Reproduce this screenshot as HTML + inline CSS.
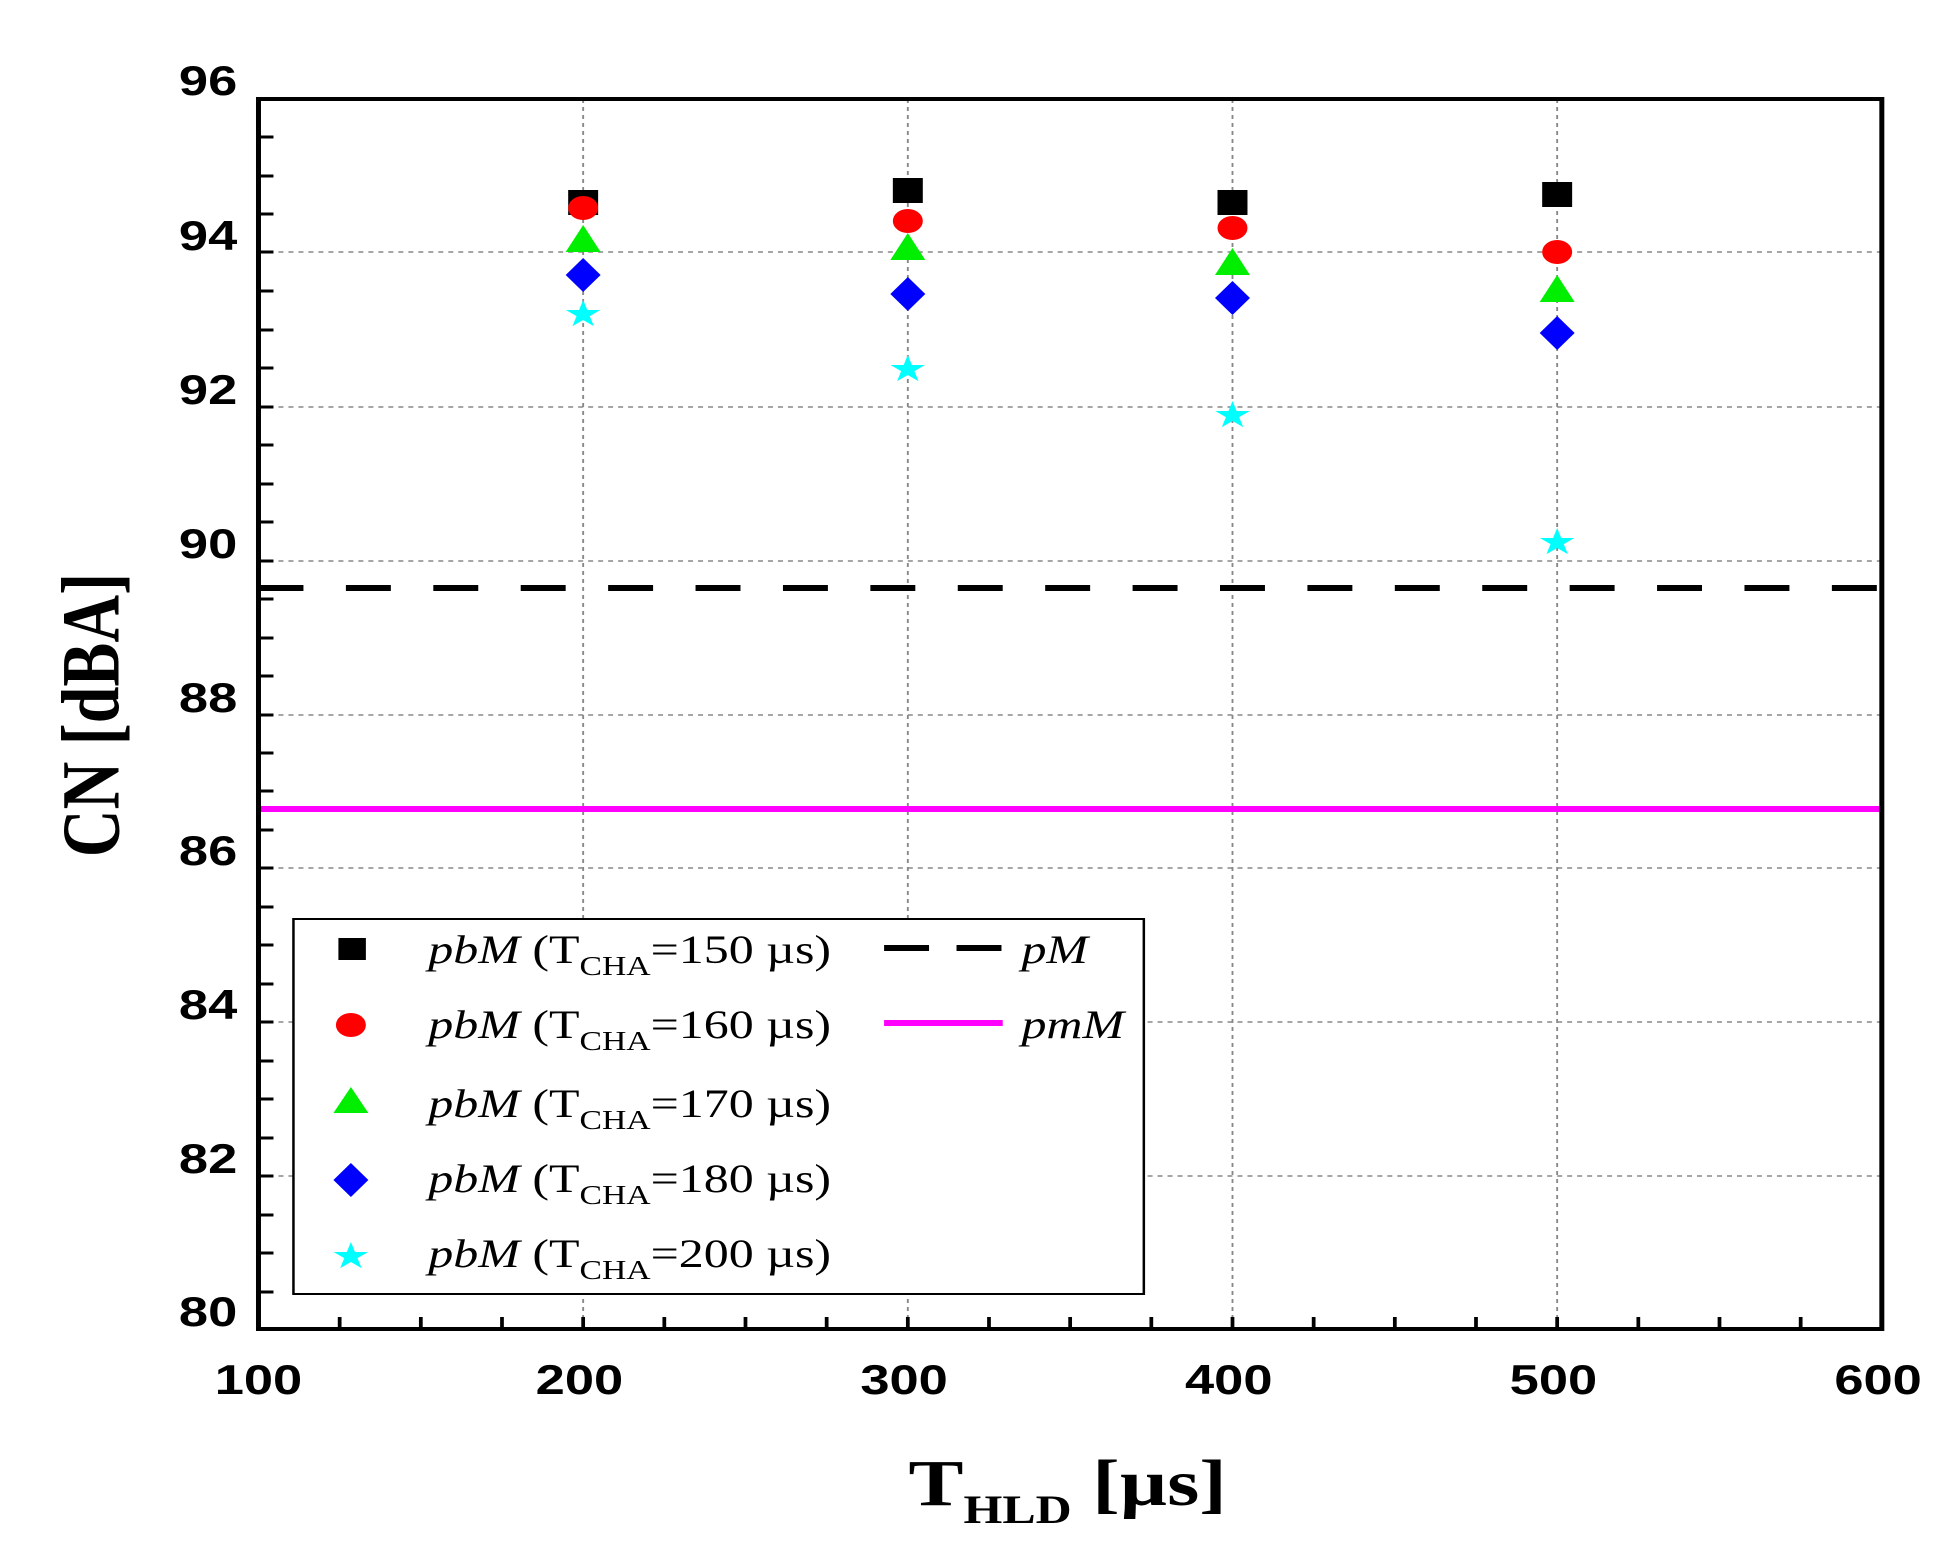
<!DOCTYPE html>
<html><head><meta charset="utf-8"><style>html,body{margin:0;padding:0;background:#fff}svg{display:block}</style></head>
<body>
<svg width="1958" height="1560" viewBox="0 0 1568 1560" preserveAspectRatio="none" xmlns="http://www.w3.org/2000/svg">
<rect width="1568" height="1560" fill="#fff"/>
<g stroke="#888" stroke-width="1.5" stroke-dasharray="4,4">
<line x1="207" x2="1507" y1="252" y2="252"/><line x1="207" x2="1507" y1="407" y2="407"/>
<line x1="207" x2="1507" y1="561" y2="561"/><line x1="207" x2="1507" y1="715" y2="715"/>
<line x1="207" x2="1507" y1="868" y2="868"/><line x1="207" x2="1507" y1="1022" y2="1022"/>
<line x1="207" x2="1507" y1="1176" y2="1176"/>
<line x1="467" x2="467" y1="99" y2="1329"/><line x1="727" x2="727" y1="99" y2="1329"/>
<line x1="987" x2="987" y1="99" y2="1329"/><line x1="1247" x2="1247" y1="99" y2="1329"/>
</g>
<g stroke="#000" stroke-width="3">
<line x1="207" x2="219" y1="137" y2="137"/><line x1="207" x2="219" y1="176" y2="176"/><line x1="207" x2="219" y1="214" y2="214"/>
<line x1="207" x2="219" y1="291" y2="291"/><line x1="207" x2="219" y1="330" y2="330"/><line x1="207" x2="219" y1="368" y2="368"/>
<line x1="207" x2="219" y1="445" y2="445"/><line x1="207" x2="219" y1="484" y2="484"/><line x1="207" x2="219" y1="522" y2="522"/>
<line x1="207" x2="219" y1="599" y2="599"/><line x1="207" x2="219" y1="638" y2="638"/><line x1="207" x2="219" y1="676" y2="676"/>
<line x1="207" x2="219" y1="753" y2="753"/><line x1="207" x2="219" y1="791" y2="791"/><line x1="207" x2="219" y1="830" y2="830"/>
<line x1="207" x2="219" y1="907" y2="907"/><line x1="207" x2="219" y1="945" y2="945"/><line x1="207" x2="219" y1="984" y2="984"/>
<line x1="207" x2="219" y1="1061" y2="1061"/><line x1="207" x2="219" y1="1099" y2="1099"/><line x1="207" x2="219" y1="1138" y2="1138"/>
<line x1="207" x2="219" y1="1215" y2="1215"/><line x1="207" x2="219" y1="1253" y2="1253"/><line x1="207" x2="219" y1="1292" y2="1292"/>
<line x1="207" x2="219" y1="252" y2="252"/><line x1="207" x2="219" y1="407" y2="407"/><line x1="207" x2="219" y1="561" y2="561"/>
<line x1="207" x2="219" y1="715" y2="715"/><line x1="207" x2="219" y1="868" y2="868"/><line x1="207" x2="219" y1="1022" y2="1022"/><line x1="207" x2="219" y1="1176" y2="1176"/>
<line x1="272" x2="272" y1="1329" y2="1317"/><line x1="337" x2="337" y1="1329" y2="1317"/><line x1="402" x2="402" y1="1329" y2="1317"/>
<line x1="467" x2="467" y1="1329" y2="1317"/><line x1="532" x2="532" y1="1329" y2="1317"/><line x1="597" x2="597" y1="1329" y2="1317"/>
<line x1="662" x2="662" y1="1329" y2="1317"/><line x1="727" x2="727" y1="1329" y2="1317"/><line x1="792" x2="792" y1="1329" y2="1317"/>
<line x1="857" x2="857" y1="1329" y2="1317"/><line x1="922" x2="922" y1="1329" y2="1317"/><line x1="987" x2="987" y1="1329" y2="1317"/>
<line x1="1052" x2="1052" y1="1329" y2="1317"/><line x1="1117" x2="1117" y1="1329" y2="1317"/><line x1="1182" x2="1182" y1="1329" y2="1317"/>
<line x1="1247" x2="1247" y1="1329" y2="1317"/><line x1="1312" x2="1312" y1="1329" y2="1317"/><line x1="1377" x2="1377" y1="1329" y2="1317"/>
<line x1="1442" x2="1442" y1="1329" y2="1317"/>
</g>
<line x1="207" x2="1507" y1="588" y2="588" stroke="#000" stroke-width="6" stroke-dasharray="36,34"/>
<line x1="207" x2="1507" y1="809" y2="809" stroke="#f0f" stroke-width="6"/>
<rect x="207" y="99" width="1300" height="1230" fill="none" stroke="#000" stroke-width="4"/>
<g fill="#000"><rect x="455" y="190" width="24" height="25"/><rect x="715" y="178" width="24" height="25"/><rect x="975" y="190" width="24" height="25"/><rect x="1235" y="182" width="24" height="25"/></g>
<g fill="#f00"><circle cx="467" cy="208" r="12"/><circle cx="727" cy="221" r="12"/><circle cx="987" cy="228" r="12"/><circle cx="1247" cy="252" r="12"/></g>
<g fill="#0e0"><polygon points="467,225 481,252 453,252"/><polygon points="727,233 741,260 713,260"/><polygon points="987,248 1001,275 973,275"/><polygon points="1247,275 1261,302 1233,302"/></g>
<g fill="#00f"><polygon points="467,258 481,275 467,292 453,275"/><polygon points="727,277 741,294 727,311 713,294"/><polygon points="987,281 1001,298 987,315 973,298"/><polygon points="1247,316 1261,333 1247,350 1233,333"/></g>
<g fill="#0ff" font-size="36" text-anchor="middle" font-family="DejaVu Sans">
<text x="467" y="326">★</text><text x="727" y="381">★</text><text x="987" y="427">★</text><text x="1247" y="554">★</text></g>
<g font-family="Liberation Sans, sans-serif" font-weight="bold" font-size="42" text-anchor="end">
<text x="190" y="95">96</text><text x="190" y="250">94</text><text x="190" y="404">92</text><text x="190" y="558">90</text>
<text x="190" y="712">88</text><text x="190" y="865">86</text><text x="190" y="1019">84</text><text x="190" y="1173">82</text><text x="190" y="1326">80</text>
</g>
<g font-family="Liberation Sans, sans-serif" font-weight="bold" font-size="42" text-anchor="middle">
<text x="207" y="1394">100</text><text x="464" y="1394">200</text><text x="724" y="1394">300</text><text x="984" y="1394">400</text><text x="1244" y="1394">500</text><text x="1504" y="1394">600</text>
</g>
<text transform="translate(95,715) rotate(-90)" font-family="Liberation Serif, serif" font-weight="bold" font-size="66" text-anchor="middle">CN [dBA]</text>
<text x="855" y="1505" font-family="Liberation Serif, serif" font-weight="bold" font-size="66" text-anchor="middle">T<tspan font-size="40" dy="18">HLD</tspan><tspan dy="-18"> [µs]</tspan></text>
<rect x="235" y="919" width="681" height="375" fill="#fff" stroke="#000" stroke-width="2"/>
<rect x="271" y="938" width="22" height="22" fill="#000"/>
<circle cx="281" cy="1025" r="12" fill="#f00"/>
<polygon points="281,1087 295,1113 267,1113" fill="#0e0"/>
<polygon points="281,1163 295,1180 281,1197 267,1180" fill="#00f"/>
<text x="281" y="1268" fill="#0ff" font-size="36" text-anchor="middle" font-family="DejaVu Sans">★</text>
<g font-family="Liberation Serif, serif" font-size="40">
<text x="343" y="963"><tspan font-style="italic">pbM</tspan> (T<tspan font-size="27" dy="12">CHA</tspan><tspan dy="-12">=150 µs)</tspan></text>
<text x="343" y="1038"><tspan font-style="italic">pbM</tspan> (T<tspan font-size="27" dy="12">CHA</tspan><tspan dy="-12">=160 µs)</tspan></text>
<text x="343" y="1117"><tspan font-style="italic">pbM</tspan> (T<tspan font-size="27" dy="12">CHA</tspan><tspan dy="-12">=170 µs)</tspan></text>
<text x="343" y="1192"><tspan font-style="italic">pbM</tspan> (T<tspan font-size="27" dy="12">CHA</tspan><tspan dy="-12">=180 µs)</tspan></text>
<text x="343" y="1267"><tspan font-style="italic">pbM</tspan> (T<tspan font-size="27" dy="12">CHA</tspan><tspan dy="-12">=200 µs)</tspan></text>
<text x="818" y="963" font-style="italic">pM</text>
<text x="818" y="1038" font-style="italic">pmM</text>
</g>
<line x1="708" x2="803" y1="948" y2="948" stroke="#000" stroke-width="6" stroke-dasharray="36,22"/>
<line x1="708" x2="803" y1="1023" y2="1023" stroke="#f0f" stroke-width="6"/>
</svg>
</body></html>
